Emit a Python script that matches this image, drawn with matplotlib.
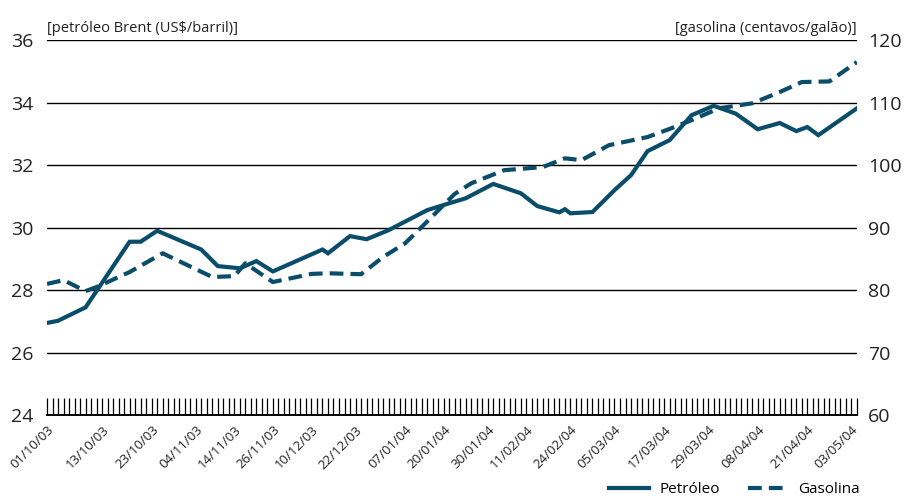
import matplotlib.pyplot as plt

plt.rcParams['font.family'] = ['Open Sans', 'DejaVu Sans']

n_days = 148  # trading days shown on the category axis

date_labels = ["01/10/03", "13/10/03", "23/10/03", "04/11/03", "14/11/03", "26/11/03",
               "10/12/03", "22/12/03", "07/01/04", "20/01/04", "30/01/04", "11/02/04",
               "24/02/04", "05/03/04", "17/03/04", "29/03/04", "08/04/04", "21/04/04",
               "03/05/04"]
label_pos = [0, 10, 19, 27, 34, 41, 48, 56, 65, 72, 80, 87, 95, 103, 112, 120, 129, 138, 146]

# petroleo Brent (US$/barril)
oil_x = [0, 2, 7, 15, 17, 20, 28, 31, 35, 38, 41, 50, 51, 55, 58, 62, 69, 73, 76,
         81, 86, 89, 93, 94, 95, 99, 103, 106, 109, 113, 117, 121, 125, 129, 133, 136,
         138, 140, 147]
oil_y = [26.95, 27.02, 27.45, 29.55, 29.55, 29.9, 29.3, 28.77, 28.7, 28.93, 28.6,
         29.3, 29.18, 29.73, 29.63, 29.92, 30.56, 30.78, 30.94, 31.4, 31.1, 30.69, 30.49,
         30.59, 30.46, 30.5, 31.2, 31.68, 32.45, 32.8, 33.6, 33.9, 33.65, 33.15, 33.35,
         33.09, 33.22, 32.96, 33.82]

# gasolina (centavos/galao)
gas_x = [0, 3, 7, 9, 15, 21, 30, 34, 36, 41, 48, 51, 57, 61, 65, 68, 74, 77, 83, 90,
         94, 97, 102, 109, 113, 117, 122, 128, 133, 137, 142, 147]
gas_y = [81.0, 81.6, 79.85, 80.5, 82.9, 85.9, 82.1, 82.25, 84.3, 81.3, 82.6, 82.7,
         82.55, 85.3, 87.5, 90.1, 95.4, 97.1, 99.2, 99.7, 101.1, 100.8, 103.2, 104.5,
         105.8, 107.2, 109.1, 109.9, 111.7, 113.3, 113.4, 116.5]

color = "#0a4d6b"

fig = plt.figure(figsize=(9.09, 4.96), dpi=100)
ax = fig.add_axes([0.0517, 0.163, 0.891, 0.756])
ax2 = ax.twinx()

ax.plot(oil_x, oil_y, color=color, lw=3, solid_joinstyle="miter")
ax2.plot(gas_x, gas_y, color=color, lw=3, ls=(0, (3.3, 1.7)))

ax.set_xlim(0, n_days - 1)
ax.set_ylim(24, 36)
ax2.set_ylim(60, 120)
ax.set_yticks(range(24, 37, 2))
ax2.set_yticks(range(60, 121, 10))
ax.grid(axis="y", color="black", lw=1)
ax.set_axisbelow(True)

for a in (ax, ax2):
    for s in ("left", "right", "top"):
        a.spines[s].set_visible(False)
    a.spines["bottom"].set_linewidth(1.2)
    a.tick_params(axis="y", length=0, labelsize=14, colors="#222222")
ax.tick_params(axis="y", pad=10)
ax2.tick_params(axis="y", pad=8)

ax.set_xticks(range(n_days), minor=True)
ax.tick_params(axis="x", which="minor", direction="in", length=12, width=0.9)
ax.set_xticks(label_pos)
ax.set_xticklabels(date_labels, rotation=45, ha="right", rotation_mode="anchor",
                   fontsize=9.5, color="#222222")
ax.tick_params(axis="x", which="major", direction="in", length=12, width=0.9, pad=6)

ax.text(0, 1.01, "[petróleo Brent (US$/barril)]", transform=ax.transAxes,
        fontsize=10.5, ha="left", va="bottom", color="#222222")
ax.text(1, 1.01, "[gasolina (centavos/galão)]", transform=ax.transAxes,
        fontsize=10.5, ha="right", va="bottom", color="#222222")

leg = fig.legend([ax.lines[0], ax2.lines[0]], ["Petróleo", "Gasolina"],
                 loc="lower right", bbox_to_anchor=(0.961, -0.03), ncol=2,
                 frameon=False, fontsize=11, handlelength=2.6, handletextpad=0.7,
                 columnspacing=1.8)

fig.savefig("out.png", dpi=100)
